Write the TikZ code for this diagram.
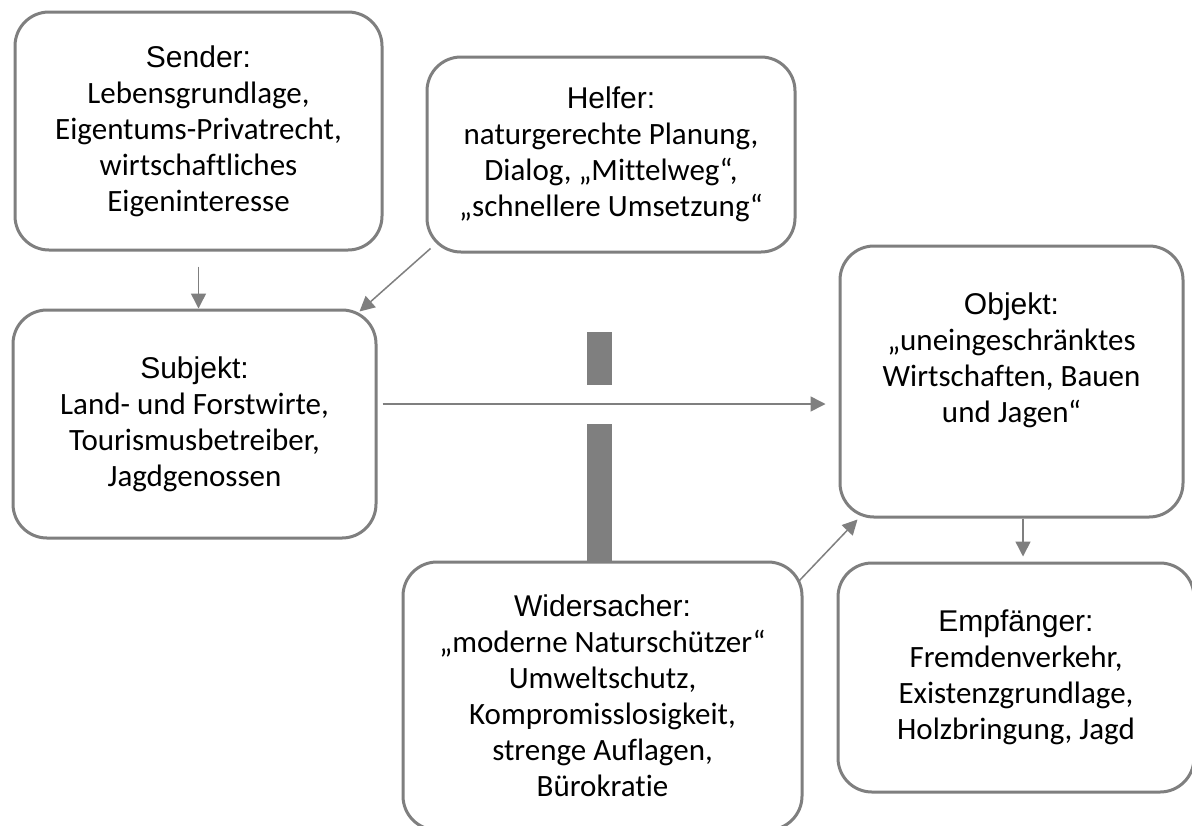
\documentclass[tikz,border=0pt]{standalone}
\usepackage{fontspec}
\setmainfont{Carlito}[Ligatures=NoCommon]
\newfontfamily\headfont{Liberation Sans}
\usetikzlibrary{arrows.meta}

\definecolor{linegray}{HTML}{7F7F7F}

\tikzset{
  actant/.style={draw=linegray, line width=1.5pt, rounded corners=17pt,
    fill=white, align=center, inner sep=0pt,
    font=\fontsize{15.5}{18}\selectfont},
  conn/.style={draw=linegray, line width=0.75pt,
    -{Triangle[length=7.5pt,width=7.5pt]}},
  barfill/.style={fill=linegray}
}
% heading line of each box
\newcommand{\headline}[1]{{\headfont\fontsize{15}{18}\selectfont #1}}

\begin{document}
\begin{tikzpicture}[x=0.5pt, y=-0.5pt]
  \clip (0,0) rectangle (1192,825);
  \fill[white] (0,0) rectangle (1192,825);

  % actant boxes (sizes given in pt = half the pixel grid)
  \node[actant, minimum width=183.5pt, minimum height=119pt] (sender) at (198.5,131)
    {\headline{Sender:}\\Lebensgrundlage,\\Eigentums-Privatrecht,\\wirtschaftliches\\Eigeninteresse};
  \node[actant, minimum width=184pt, minimum height=97.5pt] (helfer) at (611,154.5)
    {\headline{Helfer:}\\naturgerechte Planung,\\Dialog, „Mittelweg“,\\„schnellere Umsetzung“};
  \node[actant, minimum width=181.5pt, minimum height=114pt] (subjekt) at (194.5,424)
    {\headline{Subjekt:}\\Land- und Forstwirte,\\Tourismusbetreiber,\\Jagdgenossen};
  \node[actant, minimum width=171.5pt, minimum height=135.5pt] (objekt) at (1011.5,381.5)
    {\headline{Objekt:}\\„uneingeschränktes\\Wirtschaften, Bauen\\und Jagen“\\[6pt]};
  \node[actant, minimum width=178pt, minimum height=114.5pt] (empf) at (1016,677.5)
    {\headline{Empfänger:}\\Fremdenverkehr,\\Existenzgrundlage,\\Holzbringung, Jagd};
  \node[actant, minimum width=199.5pt, minimum height=134pt] (wider) at (602.5,696)
    {\headline{Widersacher:}\\„moderne Naturschützer“\\Umweltschutz,\\Kompromisslosigkeit,\\strenge Auflagen,\\Bürokratie};

  % blocking bars across the main axis
  \fill[barfill] (587,332) rectangle (612,385);
  \fill[barfill] (587,424) rectangle (612,563);

  % helper coordinates for straight connectors
  \coordinate (axis) at (0,404);
  \coordinate (down) at (1023,0);

  % connectors
  \draw[conn, shorten <=7.5pt] (sender.south) -- (sender.south |- subjekt.north);
  \draw[conn] ([shift={(5,-5)}]helfer.south west) -- ([shift={(-18,3)}]subjekt.north east);
  \draw[conn, shorten <=2.5pt, shorten >=6.5pt] (subjekt.east |- axis) -- (objekt.west |- axis);
  \draw[conn] ([shift={(-5,21)}]wider.north east) -- ([shift={(19,1)}]objekt.south west);
  \draw[conn, shorten >=2.5pt] (objekt.south -| down) -- (empf.north -| down);
\end{tikzpicture}
\end{document}
